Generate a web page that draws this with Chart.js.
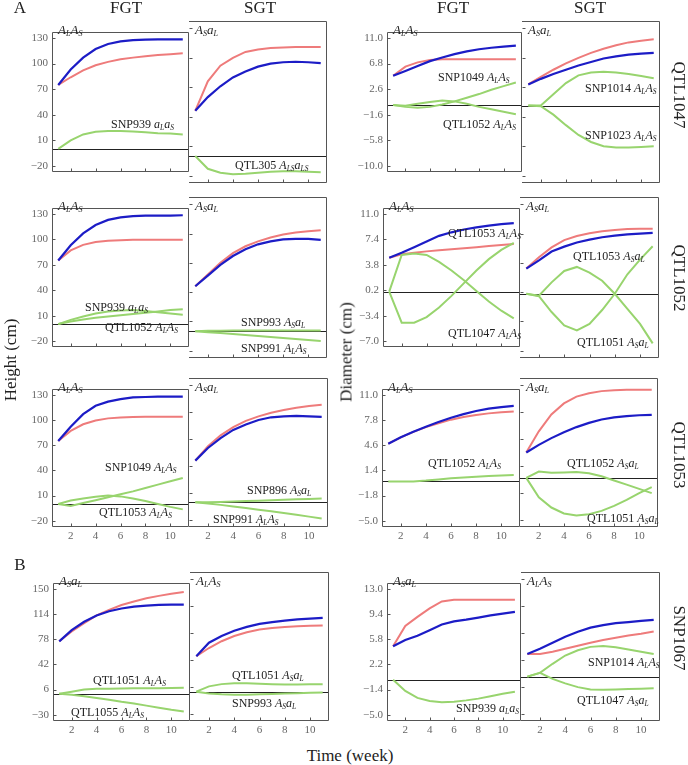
<!DOCTYPE html>
<html>
<head>
<meta charset="utf-8">
<script src="https://cdn.jsdelivr.net/npm/chart.js@4.4.1/dist/chart.umd.min.js"></script>
<style>
  body { margin: 0; background: #fff; }
  #fig { position: relative; width: 688px; height: 765px; overflow: hidden;
         font-family: "Liberation Serif", "Times New Roman", serif; color: #222; }
  #fig canvas { position: absolute; }
  .t { position: absolute; white-space: nowrap; line-height: 1; }
  .t sub { font-size: 0.62em; vertical-align: -0.3em; line-height: 0; }
</style>
</head>
<body>
<div id="fig"></div>
<script>
// x values and tick labels
const weeks = [1, 2, 3, 4, 5, 6, 7, 8, 9, 10, 11];
const xTicks = [2, 4, 6, 8, 10];
const hTicks = [-20, 10, 40, 70, 100, 130];
const hTicksB = [-30, 6, 42, 78, 114, 150];
const dTicks1 = [-10, -5.8, -1.6, 2.6, 6.8, 11];
const dTicks2 = [-7, -3.4, 0.2, 3.8, 7.4, 11];
const dTicks3 = [-5, -1.8, 1.4, 4.6, 7.8, 11];
const dTicksB = [-5, -1.4, 2.2, 5.8, 9.4, 13];

// row QTL1047
const r1HF_blue = [75, 93, 107, 117, 123, 126, 127.5, 128, 128.5, 128.5, 128.5];
const r1HF_red = [75, 84, 92, 98, 102, 105, 107, 108.5, 110, 111, 112];
const r1HF_snp939 = [0, 10, 17, 20, 21, 21, 20.5, 19.5, 18.5, 18, 17];
const r1HS_blue = [46, 60, 71, 80, 86, 91, 94, 95.5, 96, 95.5, 94.5];
const r1HS_red = [46, 76, 92, 100, 106, 108.5, 110, 110.5, 111, 111, 111];
const r1HS_qtl305 = [0, -13, -17, -18.5, -18, -17, -16, -15.5, -15.5, -16, -16.5];
const r1DF_blue = [4.8, 5.6, 6.4, 7.2, 7.8, 8.35, 8.8, 9.15, 9.4, 9.6, 9.75];
const r1DF_red = [4.8, 6.3, 7.0, 7.4, 7.5, 7.5, 7.5, 7.5, 7.5, 7.5, 7.5];
const r1DF_snp1049 = [0, -0.3, -0.45, -0.3, 0.1, 0.6, 1.2, 1.8, 2.5, 3.1, 3.7];
const r1DF_qtl1052 = [0, -0.1, 0.2, 0.5, 0.75, 0.6, 0.2, -0.3, -0.7, -1.1, -1.5];
const r1DS_blue = [3.0, 3.8, 4.5, 5.1, 5.7, 6.2, 6.7, 7.0, 7.25, 7.4, 7.5];
const r1DS_red = [3.0, 4.1, 5.1, 6.0, 6.8, 7.5, 8.1, 8.6, 9.0, 9.25, 9.45];
const r1DS_snp1014 = [0, 0, 1.6, 3.2, 4.3, 4.7, 4.8, 4.7, 4.5, 4.2, 3.9];
const r1DS_snp1023 = [0, -0.1, -1.3, -2.8, -4.2, -5.2, -5.8, -6.0, -6.0, -5.9, -5.8];

// row QTL1052
const r2HF_blue = [75, 93, 107, 117, 123, 126, 127.5, 128, 128, 128, 128.5];
const r2HF_red = [75, 87, 93.5, 97, 98.5, 99, 99.5, 99.5, 99.5, 99.5, 99.5];
const r2HF_snp939 = [0, 5, 9, 12.5, 15, 16, 16.5, 15.5, 14, 12.5, 11];
const r2HF_qtl1052 = [0, 3, 5.5, 7.5, 9, 10.5, 12, 13.5, 15, 16.5, 17.5];
const r2HS_blue = [46, 57, 68, 77, 84, 89, 92, 94, 94.5, 94.5, 93.5];
const r2HS_red = [46, 58, 70, 80, 87, 92, 96, 99, 101, 102.5, 103.5];
const r2HS_snp993 = [0, 0.3, 0.5, 0.7, 0.8, 0.8, 0.8, 0.8, 0.8, 0.8, 0.8];
const r2HS_snp991 = [0, -1, -2, -3, -4, -5, -6, -7, -8, -9, -10];
const r2DF_blue = [4.8, 5.5, 6.3, 7.1, 7.9, 8.4, 8.8, 9.1, 9.35, 9.55, 9.7];
const r2DF_red = [4.8, 5.3, 5.5, 5.7, 5.85, 6.0, 6.15, 6.3, 6.45, 6.6, 6.75];
const r2DF_qtl1053 = [0, -4.4, -4.4, -3.6, -2.25, -0.6, 1.2, 3.0, 4.6, 5.9, 6.9];
const r2DF_qtl1047 = [0, 5.2, 5.4, 5.2, 4.2, 3.0, 1.6, 0.1, -1.4, -2.7, -3.8];
const r2DS_blue = [3.1, 4.1, 5.2, 5.8, 6.3, 6.65, 6.95, 7.15, 7.3, 7.4, 7.5];
const r2DS_red = [3.1, 4.5, 5.7, 6.6, 7.1, 7.45, 7.7, 7.85, 7.95, 8.0, 8.0];
const r2DS_qtl1053 = [0, -0.3, -2.25, -3.9, -4.5, -3.7, -2.0, 0, 2.4, 4.2, 5.85];
const r2DS_qtl1051 = [0, -0.25, 1.4, 2.8, 3.3, 2.6, 1.6, 0, -1.85, -3.7, -6.1];

// row QTL1053
const r3HF_blue = [75, 92, 107, 117, 122, 125, 127, 127.5, 128, 128, 128];
const r3HF_red = [75, 87, 95, 99.5, 102, 103, 103.5, 104, 104, 104, 104];
const r3HF_snp1049 = [0, -2.5, 1, 4.5, 8, 11.5, 15, 19, 23, 27, 31];
const r3HF_qtl1053 = [0, 4, 6.5, 8.5, 10, 9, 6.5, 3.5, 0, -3.5, -6.5];
const r3HS_blue = [46, 60, 71, 80, 86, 91, 94, 95, 95.5, 95, 94.5];
const r3HS_red = [46, 62, 74, 83, 90, 95, 99, 102, 104.5, 106.5, 108];
const r3HS_snp896 = [0, 0, 0.3, 0.8, 1.2, 1.7, 2.2, 2.7, 3.2, 3.6, 4];
const r3HS_snp991 = [0, -1.5, -3, -4.8, -6.5, -8.3, -10, -12, -14, -16, -18];
const r3DF_blue = [4.8, 5.6, 6.3, 6.95, 7.55, 8.1, 8.55, 8.95, 9.25, 9.45, 9.6];
const r3DF_red = [4.8, 5.6, 6.3, 6.9, 7.4, 7.85, 8.2, 8.45, 8.65, 8.8, 8.9];
const r3DF_qtl1052 = [0, 0, 0, 0.1, 0.25, 0.4, 0.5, 0.6, 0.7, 0.75, 0.8];
const r3DS_blue = [3.0, 3.9, 4.7, 5.4, 6.0, 6.5, 6.9, 7.15, 7.3, 7.4, 7.45];
const r3DS_red = [3.0, 5.5, 7.5, 8.8, 9.6, 10.0, 10.25, 10.35, 10.4, 10.4, 10.4];
const r3DS_qtl1052 = [0, 0.75, 0.6, 0.65, 0.7, 0.55, 0.2, -0.3, -0.8, -1.3, -1.8];
const r3DS_qtl1051 = [0, -2.3, -3.5, -4.2, -4.45, -4.3, -3.9, -3.3, -2.6, -1.8, -1.1];

// row SNP1067 (panel B)
const r4HF_blue = [75, 91, 103, 112, 118, 122, 124.5, 126, 127, 127.5, 127.5];
const r4HF_red = [75, 89, 101, 112, 120, 127, 132, 136.5, 140, 143, 145.5];
const r4HF_qtl1051 = [0, 3, 6, 7, 7.3, 7.5, 7.7, 7.8, 8, 8.2, 8.4];
const r4HF_qtl1055 = [0, -1.5, -3.5, -6, -8.5, -11.5, -14, -17, -20, -23, -25.5];
const r4HS_blue = [47, 65, 74, 81, 86, 90, 92.5, 94.5, 96, 97, 98];
const r4HS_red = [47, 58, 67, 74, 79, 82.5, 84.5, 86, 87, 87.5, 88];
const r4HS_qtl1051 = [0, 7, 10, 11, 11, 10.5, 10, 9.5, 9.5, 9.7, 10];
const r4HS_snp993 = [0, -2.5, -3.5, -4, -4, -3.5, -3, -2.5, -2, -1.5, -1];
const r4DF_blue = [4.8, 5.7, 6.3, 7.1, 7.9, 8.35, 8.6, 8.9, 9.2, 9.45, 9.7];
const r4DF_red = [4.8, 7.7, 9.0, 10.2, 11.2, 11.45, 11.45, 11.45, 11.45, 11.45, 11.45];
const r4DF_snp939 = [0, -1.6, -2.6, -3.05, -3.2, -3.15, -2.95, -2.7, -2.35, -2.0, -1.7];
const r4DS_blue = [3.0, 3.7, 4.5, 5.3, 5.95, 6.5, 6.85, 7.1, 7.25, 7.4, 7.55];
const r4DS_red = [3.0, 3.0, 3.3, 3.7, 4.1, 4.5, 4.85, 5.15, 5.45, 5.7, 6.0];
const r4DS_snp1014 = [0, 0.5, 1.7, 2.8, 3.5, 3.95, 4.05, 3.9, 3.6, 3.3, 3.0];
const r4DS_qtl1047 = [0, 0.5, -0.3, -0.9, -1.4, -1.7, -1.75, -1.7, -1.65, -1.6, -1.55];

const BLUE = '#1c1cc6', RED = '#ee7b7b', GREEN = '#98d46e';
const FONT = '"Liberation Serif", "Times New Roman", serif';
const fig = document.getElementById('fig');

// genotype text with subscripts
const gt = (a, s1, b, s2) => `<i>${a}<sub>${s1}</sub>${b}<sub>${s2}</sub></i>`;
const LS = gt('A', 'L', 'A', 'S'), SL = gt('A', 'S', 'a', 'L'), ls = gt('a', 'L', 'a', 'S');

// page layout of the boxes
const leftX = [[52, 189, 327], [52, 189, 327], [52, 189, 328], [53, 190, 329]];
const rightX = [[387, 522, 660], [383, 520, 659], [382, 520, 658], [387, 521, 660]];
const rowY = [[21, 183], [197, 358], [378, 527], [572, 721]];
const HR = [-27.5, 137.5], HRB = [-39, 159];

const panels = [
  {r: 0, c: 0, yt: hTicks, yr: HR, geno: LS, lines: [r1HF_snp939], blue: r1HF_blue, red: r1HF_red,
   notes: [[111, 124, 'SNP939 ' + ls]]},
  {r: 0, c: 1, yt: hTicks, yr: HR, geno: SL, lines: [r1HS_qtl305], blue: r1HS_blue, red: r1HS_red,
   notes: [[235, 165, 'QTL305 ' + gt('A', 'LS', 'a', 'LS')]]},
  {r: 0, c: 2, yt: dTicks1, yr: [-11.05, 12.05], geno: LS, lines: [r1DF_snp1049, r1DF_qtl1052], blue: r1DF_blue, red: r1DF_red,
   notes: [[438, 77, 'SNP1049 ' + LS], [443, 124, 'QTL1052 ' + LS]]},
  {r: 0, c: 3, yt: dTicks1, yr: [-11.05, 12.05], geno: SL, lines: [r1DS_snp1014, r1DS_snp1023], blue: r1DS_blue, red: r1DS_red,
   notes: [[585, 88, 'SNP1014 ' + LS], [585, 135, 'SNP1023 ' + LS]]},

  {r: 1, c: 0, yt: hTicks, yr: HR, geno: LS, lines: [r2HF_snp939, r2HF_qtl1052], blue: r2HF_blue, red: r2HF_red,
   notes: [[85, 307, 'SNP939 ' + ls], [105, 327, 'QTL1052 ' + LS]]},
  {r: 1, c: 1, yt: hTicks, yr: HR, geno: SL, lines: [r2HS_snp993, r2HS_snp991], blue: r2HS_blue, red: r2HS_red,
   notes: [[241, 322, 'SNP993 ' + SL], [241, 348, 'SNP991 ' + LS]]},
  {r: 1, c: 2, yt: dTicks2, yr: [-7.9, 11.9], geno: LS, lines: [r2DF_qtl1053, r2DF_qtl1047], blue: r2DF_blue, red: r2DF_red,
   notes: [[448, 233, 'QTL1053 ' + LS], [448, 333, 'QTL1047 ' + LS]]},
  {r: 1, c: 3, yt: dTicks2, yr: [-7.9, 11.9], geno: SL, lines: [r2DS_qtl1053, r2DS_qtl1051], blue: r2DS_blue, red: r2DS_red,
   notes: [[573, 256, 'QTL1053 ' + SL], [577, 342, 'QTL1051 ' + SL]]},

  {r: 2, c: 0, yt: hTicks, yr: HR, geno: LS, lines: [r3HF_snp1049, r3HF_qtl1053], blue: r3HF_blue, red: r3HF_red,
   notes: [[105, 467, 'SNP1049 ' + LS], [99, 512, 'QTL1053 ' + LS]]},
  {r: 2, c: 1, yt: hTicks, yr: HR, geno: SL, lines: [r3HS_snp896, r3HS_snp991], blue: r3HS_blue, red: r3HS_red,
   notes: [[247, 490, 'SNP896 ' + SL], [213, 519, 'SNP991 ' + LS]]},
  {r: 2, c: 2, yt: dTicks3, yr: [-5.8, 11.8], geno: LS, lines: [r3DF_qtl1052], blue: r3DF_blue, red: r3DF_red,
   notes: [[428, 463, 'QTL1052 ' + LS]]},
  {r: 2, c: 3, yt: dTicks3, yr: [-5.8, 11.8], geno: SL, lines: [r3DS_qtl1052, r3DS_qtl1051], blue: r3DS_blue, red: r3DS_red,
   notes: [[567, 463, 'QTL1052 ' + SL], [587, 518, 'QTL1051 ' + SL]]},

  {r: 3, c: 0, yt: hTicksB, yr: HRB, geno: SL, lines: [r4HF_qtl1051, r4HF_qtl1055], blue: r4HF_blue, red: r4HF_red,
   notes: [[93, 680, 'QTL1051 ' + LS], [71, 712, 'QTL1055 ' + LS]]},
  {r: 3, c: 1, yt: hTicksB, yr: HRB, geno: LS, lines: [r4HS_qtl1051, r4HS_snp993], blue: r4HS_blue, red: r4HS_red,
   notes: [[232, 675, 'QTL1051 ' + SL], [232, 703, 'SNP993 ' + SL]]},
  {r: 3, c: 2, yt: dTicksB, yr: [-5.9, 13.9], geno: SL, lines: [r4DF_snp939], blue: r4DF_blue, red: r4DF_red,
   notes: [[456, 708, 'SNP939 ' + ls]]},
  {r: 3, c: 3, yt: dTicksB, yr: [-5.9, 13.9], geno: LS, lines: [r4DS_snp1014, r4DS_qtl1047], blue: r4DS_blue, red: r4DS_red,
   notes: [[588, 662, 'SNP1014 ' + LS], [577, 700, 'QTL1047 ' + SL]]}
];

// box, zero line and inward ticks
const frame = {
  id: 'frame',
  beforeDatasetsDraw(chart) {
    const {ctx, chartArea: a, scales: {y}} = chart;
    const yz = Math.round(y.getPixelForValue(0)) + 0.5;
    ctx.save();
    ctx.strokeStyle = '#222';
    ctx.lineWidth = 1;
    ctx.beginPath();
    ctx.moveTo(a.left, yz);
    ctx.lineTo(a.right, yz);
    ctx.stroke();
    ctx.restore();
  },
  afterDatasetsDraw(chart, args, o) {
    const {ctx, chartArea: a, scales: {x, y}} = chart;
    const L = Math.round(a.left) + 0.5, R = Math.round(a.right) - 0.5;
    const T = Math.round(a.top) + 0.5, B = Math.round(a.bottom) - 0.5;
    ctx.save();
    ctx.strokeStyle = '#555';
    ctx.lineWidth = 1;
    ctx.beginPath();
    if (o.first) { ctx.moveTo(L, B); ctx.lineTo(L, T); } else { ctx.moveTo(a.left, T); }
    ctx.lineTo(R, T);
    ctx.lineTo(R, B);
    ctx.lineTo(o.first ? L : a.left, B);
    for (const v of o.yt) {
      const py = Math.round(y.getPixelForValue(v)) + 0.5;
      ctx.moveTo(L, py);
      ctx.lineTo(L + 3, py);
    }
    for (const v of xTicks) {
      const px = Math.round(x.getPixelForValue(v)) + 0.5;
      ctx.moveTo(px, B);
      ctx.lineTo(px, B - 3);
    }
    ctx.stroke();
    ctx.restore();
  }
};

function txt(html, x, y, size, transform) {
  const d = document.createElement('div');
  d.className = 't';
  d.innerHTML = html;
  d.style.left = x + 'px';
  d.style.top = y + 'px';
  d.style.fontSize = size + 'px';
  d.style.transform = transform;
  fig.appendChild(d);
}

const YW = 44, XH = 20;
const fmtH = v => (v < 0 ? '\u2212' : '') + Math.abs(v);
const fmtD = v => (v < 0 ? '\u2212' : '') + Math.abs(v).toFixed(1);

panels.forEach(p => {
  const xs = p.c < 2 ? leftX[p.r] : rightX[p.r];
  const k = p.c % 2;
  const x0 = xs[k], x1 = xs[k + 1];
  const [y0, y1] = rowY[p.r];
  const showY = k === 0, showX = p.r >= 2;
  const isH = p.c < 2;
  const cw = x1 - x0 + (showY ? YW : 0), ch = y1 - y0 + (showX ? XH : 0);
  const cv = document.createElement('canvas');
  cv.width = cw; cv.height = ch;
  cv.style.width = cw + 'px'; cv.style.height = ch + 'px';
  cv.style.left = (x0 - (showY ? YW : 0)) + 'px';
  cv.style.top = y0 + 'px';
  fig.appendChild(cv);

  const ds = p.lines.map(arr => ({data: arr, color: GREEN, w: 2}))
    .concat([{data: p.blue, color: BLUE, w: 2.2}, {data: p.red, color: RED, w: 2}]);

  new Chart(cv, {
    type: 'line',
    data: {
      datasets: ds.map(d => ({
        data: weeks.map((w, i) => ({x: w, y: d.data[i]})),
        borderColor: d.color, borderWidth: d.w,
        pointRadius: 0, tension: 0, fill: false
      }))
    },
    options: {
      responsive: false, animation: false, devicePixelRatio: 1,
      layout: {padding: 0, autoPadding: false},
      plugins: {legend: {display: false}, tooltip: {enabled: false},
                frame: {yt: p.yt, first: k === 0}},
      scales: {
        x: {
          type: 'linear', min: 0.5, max: 11.5, display: showX,
          grid: {display: false, drawTicks: false}, border: {display: false},
          ticks: {font: {family: FONT, size: 11}, color: '#666', padding: 3, maxRotation: 0, autoSkip: false},
          afterBuildTicks: s => { s.ticks = xTicks.map(v => ({value: v})); },
          afterFit: s => { s.height = showX ? XH : 0; }
        },
        y: {
          type: 'linear', min: p.yr[0], max: p.yr[1], display: showY,
          grid: {display: false, drawTicks: false}, border: {display: false},
          ticks: {font: {family: FONT, size: 11}, color: '#666', padding: 4,
                  callback: isH ? fmtH : fmtD},
          afterBuildTicks: s => { s.ticks = p.yt.map(v => ({value: v})); },
          afterFit: s => { s.width = showY ? YW : 0; }
        }
      }
    },
    plugins: [frame]
  });

  txt(p.geno, x0 + 6, y0 + 8, 13, 'translateY(-50%)');
  p.notes.forEach(([nx, ny, h]) => txt(h, nx, ny, 12, 'translateY(-50%)'));
});

// titles and axis labels
txt('A', 20, 7, 17, 'translate(-50%,-50%)');
txt('B', 20, 564, 17, 'translate(-50%,-50%)');
txt('FGT', 126, 7, 17, 'translate(-50%,-50%)');
txt('SGT', 260, 7, 17, 'translate(-50%,-50%)');
txt('FGT', 453, 7, 17, 'translate(-50%,-50%)');
txt('SGT', 590, 7, 17, 'translate(-50%,-50%)');
txt('Height (cm)', 10, 360, 17, 'translate(-50%,-50%) rotate(-90deg)');
txt('Diameter (cm)', 346, 352, 17, 'translate(-50%,-50%) rotate(-90deg)');
txt('Time (week)', 350, 755, 17, 'translate(-50%,-50%)');
[['QTL1047', 95], ['QTL1052', 278], ['QTL1053', 455], ['SNP1067', 638]]
  .forEach(([s, y]) => txt(s, 679, y, 17, 'translate(-50%,-50%) rotate(90deg)'));
</script>
</body>
</html>
